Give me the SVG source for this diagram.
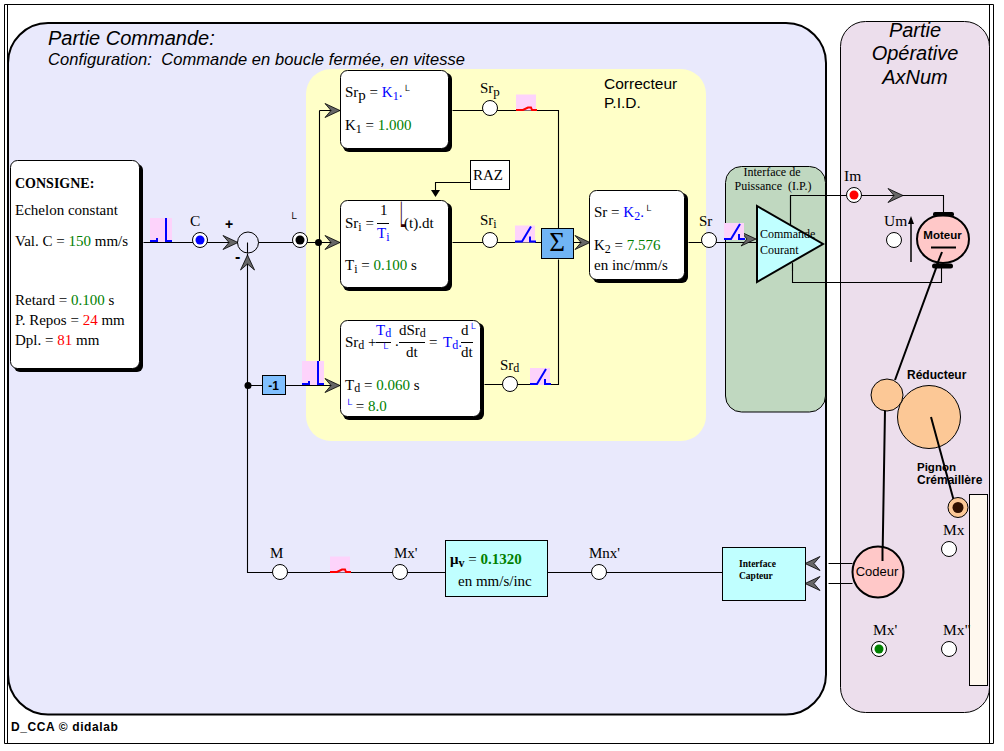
<svg xmlns="http://www.w3.org/2000/svg" xmlns:xlink="http://www.w3.org/1999/xlink" width="1004" height="751" viewBox="0 0 1004 751">
<style>
text{font-family:"Liberation Serif","Times New Roman",serif;font-size:15px;fill:#000}
.s{font-family:"Liberation Sans",Arial,sans-serif}
.i{font-family:"Liberation Sans",Arial,sans-serif;font-style:italic}
.b{font-weight:bold}
.lb{font-size:15.5px}
.g{fill:#008000}.r{fill:#f00}.u{fill:#00f}
.w{fill:none;stroke:#000;stroke-width:1.1}
.bar{stroke:#000;stroke-width:1}
.box{fill:#fff;stroke:#000;stroke-width:1}
.sh{fill:#000}
.nd{fill:#fff;stroke:#000;stroke-width:1}
.pk{fill:#fdd3fb}
.sb{fill:none;stroke:#00f;stroke-width:2}
.sr{fill:none;stroke:#f00;stroke-width:2}
.ch{fill:#666;stroke:#000;stroke-width:.8}
</style>
<defs>
<path id="chev" class="ch" d="M0,0L-15,-7L-9,0L-15,7Z"/>
<g id="stepS"><rect class="pk" width="22" height="24"/><path class="sb" d="M0,23H7V20M16,0V23H22"/></g>
<g id="rampS"><rect class="pk" width="20" height="17"/><path class="sb" d="M0,16H7L16,1M15,11V16H21"/></g>
<g id="lowS"><rect class="pk" width="20" height="16"/><path class="sr" d="M0,15.500H7L12,13H15L16,15.500H21"/></g>
</defs>
<rect x="0" y="0" width="1004" height="751" fill="#fff"/>
<path d="M4.500,4.500H993.500V743.500H4.500Z" fill="none" stroke="#000"/>
<path d="M7.500,4.500V743.500M989.500,4.500V743.500" fill="none" stroke="#000"/>
<g id="panel-commande">
<rect x="8" y="23" width="818" height="691.500" rx="40" fill="#e9e9fc" stroke="#000" stroke-width="2"/>
<rect x="306" y="69" width="400" height="372" rx="25" fill="#ffffc8"/>
<text class="i" x="48" y="45" style="font-size:20px">Partie Commande:</text>
<text class="i" x="48" y="65" style="font-size:16.500px" xml:space="preserve" textLength="417">Configuration:  Commande en boucle fermée, en vitesse</text>
<text class="s" x="604" y="89" style="font-size:15.500px">Correcteur</text>
<text class="s" x="604" y="108" style="font-size:15.500px">P.I.D.</text>
</g>
<g id="panel-operative">
<rect x="840.500" y="21.500" width="149" height="691" rx="25" fill="#ecdeec" stroke="#000"/>
<text class="i" x="915" y="37" text-anchor="middle" style="font-size:20px">Partie</text>
<text class="i" x="915" y="60" text-anchor="middle" style="font-size:20px">Opérative</text>
<text class="i" x="915" y="84" text-anchor="middle" style="font-size:20px">AxNum</text>
</g>
<g id="interface-puissance">
<rect x="725.500" y="166.500" width="100" height="245.500" rx="16" fill="#c0d8c0" stroke="#000"/>
<text x="772" y="176" text-anchor="middle" style="font-size:12px">Interface de</text>
<text x="773" y="190" text-anchor="middle" style="font-size:12px" xml:space="preserve" textLength="77">Puissance  (I.P.)</text>
</g>
<g id="connectors">
<g transform="translate(.5,.5)">
<path class="w" d="M143,242H237M258,242H340M319,110V361M319,110H340M247,253V572H722M247,385H262M285,385H340"/>
<path class="w" d="M452,110H558V228M452,242H541M558,259V384H484M573,242H590M688,242H756M470,182H435V192"/>
<path class="w" d="M790,250V195H943V212M792,263V282H941V267"/>
<path class="w" d="M828,563H852M828,583H852"/>
</g>
<path d="M942,252L895,380M885,410L882.500,560" fill="none" stroke="#000" stroke-width="2"/>
<use xlink:href="#chev" href="#chev" transform="translate(238,242.500)"/>
<use xlink:href="#chev" href="#chev" transform="translate(247.500,255) rotate(-90)"/>
<use xlink:href="#chev" href="#chev" transform="translate(340,110.500)"/>
<use xlink:href="#chev" href="#chev" transform="translate(340,242.500)"/>
<use xlink:href="#chev" href="#chev" transform="translate(340,385.500)"/>
<use xlink:href="#chev" href="#chev" transform="translate(590,242.500)"/>
<use xlink:href="#chev" href="#chev" transform="translate(756,239)"/>
<use xlink:href="#chev" href="#chev" transform="translate(903,195.500)"/>
<use xlink:href="#chev" href="#chev" transform="translate(805,563.500) rotate(180)"/>
<use xlink:href="#chev" href="#chev" transform="translate(805,583.500) rotate(180)"/>
<path d="M435.500,197L431,190H440Z" fill="#000"/>
<path d="M911,262V220" fill="none" stroke="#000" stroke-width="1.500"/>
<path d="M911,216L908,224H914Z" fill="#000"/>
<circle cx="318.500" cy="242.500" r="3.500" fill="#000"/>
<circle cx="248" cy="385.500" r="3.500" fill="#000"/>
</g>
<g id="signals">
<use xlink:href="#stepS" href="#stepS" x="150" y="218"/>
<use xlink:href="#stepS" href="#stepS" x="302" y="361"/>
<use xlink:href="#lowS" href="#lowS" x="516" y="94.500"/>
<use xlink:href="#rampS" href="#rampS" x="515" y="225.500"/>
<use xlink:href="#rampS" href="#rampS" x="530" y="368"/>
<use xlink:href="#rampS" href="#rampS" x="724" y="223"/>
<use xlink:href="#lowS" href="#lowS" x="330" y="556.500"/>
</g>
<g id="consigne">
<rect class="sh" x="14" y="164" width="129" height="208" rx="6"/>
<rect class="box" x="10.500" y="160.500" width="129" height="208" rx="7"/>
<text class="b" x="15" y="188" style="font-size:14px">CONSIGNE:</text>
<text x="15" y="215">Echelon constant</text>
<text x="15" y="246">Val. C = <tspan class="g">150</tspan> mm/s</text>
<text x="15" y="305">Retard = <tspan class="g">0.100</tspan> s</text>
<text x="15" y="325">P. Repos = <tspan class="r">24</tspan> mm</text>
<text x="15" y="345">Dpl. = <tspan class="r">81</tspan> mm</text>
</g>
<g id="node-c"><text x="190" y="226" class="lb">C</text><circle class="nd" cx="200" cy="240" r="7.500"/><circle cx="200" cy="240" r="4.500" fill="#00f"/></g>
<g id="sum"><circle cx="248" cy="242.500" r="10.500" fill="none" stroke="#000"/><path class="w" d="M247.500,242.500V253"/><text class="s b" x="225" y="229" style="font-size:14px">+</text><text class="s b" x="235" y="262" style="font-size:16px">-</text></g>
<g id="node-l"><text x="289" y="222" style="font-size:11px">└</text><circle class="nd" cx="300" cy="240" r="7.500"/><circle cx="300" cy="240" r="4.500" fill="#000"/></g>
<g id="gain"><rect x="262.500" y="375.500" width="23" height="19" fill="#80c0ff" stroke="#000"/><text class="s b" x="273.500" y="390" text-anchor="middle" style="font-size:12px">-1</text></g>
<g id="srp">
<rect class="sh" x="343" y="73" width="109" height="79" rx="6"/><rect class="box" x="340.500" y="70.500" width="108" height="78" rx="7"/>
<text x="345" y="97">Sr<tspan dy="3">p</tspan><tspan dy="-3"> = </tspan><tspan class="u">K<tspan dy="3" style="font-size:12px">1</tspan><tspan dy="-3">.</tspan></tspan><tspan dy="-3" style="font-size:10px">└</tspan></text>
<text x="345" y="130">K<tspan dy="3" style="font-size:12px">1</tspan><tspan dy="-3"> = </tspan><tspan class="g">1.000</tspan></text>
</g>
<g id="sri">
<rect class="sh" x="343" y="203" width="109" height="88" rx="6"/><rect class="box" x="340.500" y="200.500" width="108" height="87" rx="7"/>
<text x="345" y="228">Sr<tspan dy="3" style="font-size:12px">i</tspan><tspan dy="-3"> =</tspan></text>
<text x="380" y="215">1</text><path class="bar" d="M377,223.500H389"/>
<text class="u" x="377" y="238">T<tspan dy="3" style="font-size:12px">i</tspan></text>
<text transform="translate(397,238) scale(.3,1)" style="font-size:40px;fill:#300">└</text>
<text x="404" y="228">(t).dt</text>
<text x="345" y="270">T<tspan dy="3" style="font-size:12px">i</tspan><tspan dy="-3"> = </tspan><tspan class="g">0.100</tspan> s</text>
</g>
<g id="raz"><rect x="470.500" y="160.500" width="39" height="29" fill="#fff" stroke="#000"/><text x="473" y="180">RAZ</text></g>
<g id="srd">
<rect class="sh" x="343" y="323" width="141" height="97" rx="6"/><rect class="box" x="340.500" y="320.500" width="140" height="96" rx="7"/>
<text x="345" y="347">Sr<tspan dy="2" style="font-size:12px">d</tspan><tspan dy="-2"> +</tspan></text>
<text class="u" x="376" y="335">T<tspan dy="2" style="font-size:12px">d</tspan></text><path class="bar" d="M376,342.500H391"/><text class="u" x="381" y="352" style="font-size:10px">└</text>
<text x="395" y="346">.</text>
<text x="399" y="335">dSr<tspan dy="2" style="font-size:12px">d</tspan></text><path class="bar" d="M399,342.500H425"/><text x="406" y="357">dt</text>
<text x="429" y="347">=</text>
<text class="u" x="443" y="347">T<tspan dy="2" style="font-size:12px">d</tspan><tspan dy="-2">.</tspan></text>
<text x="461" y="335">d<tspan dy="-3" style="font-size:10px" class="u">└</tspan></text><path class="bar" d="M461,342.500H473"/><text x="461" y="357">dt</text>
<text x="345" y="390">T<tspan dy="2" style="font-size:12px">d</tspan><tspan dy="-2"> = </tspan><tspan class="g">0.060</tspan> s</text>
<text x="345" y="411"><tspan class="u" style="font-size:10px" dy="-3">└</tspan><tspan dy="3"> = </tspan><tspan class="g">8.0</tspan></text>
</g>
<g id="node-srp"><text x="480" y="93">Sr<tspan dy="3" style="font-size:13px">p</tspan></text><circle class="nd" cx="490" cy="108" r="7.500"/></g>
<g id="node-sri"><text x="480" y="225">Sr<tspan dy="3" style="font-size:12px">i</tspan></text><circle class="nd" cx="490" cy="240" r="7.500"/></g>
<g id="node-srd"><text x="500" y="370">Sr<tspan dy="2" style="font-size:12px">d</tspan></text><circle class="nd" cx="510" cy="384" r="7.500"/></g>
<g id="sigma"><rect x="541.500" y="228.500" width="32" height="30" fill="#70b4f4" stroke="#000"/><text x="557" y="251" text-anchor="middle" style="font-size:27px">Σ</text></g>
<g id="sr">
<rect class="sh" x="593" y="193" width="95" height="90" rx="6"/><rect class="box" x="589.500" y="190.500" width="95" height="89" rx="7"/>
<text x="594" y="217">Sr = <tspan class="u">K<tspan dy="3" style="font-size:12px">2</tspan><tspan dy="-3">.</tspan></tspan><tspan dy="-3" style="font-size:10px">└</tspan></text>
<text x="594" y="250">K<tspan dy="3" style="font-size:12px">2</tspan><tspan dy="-3"> = </tspan><tspan class="g">7.576</tspan></text>
<text x="594" y="270">en inc/mm/s</text>
</g>
<g id="node-sr"><text x="699" y="226">Sr</text><circle class="nd" cx="709" cy="240" r="7.500"/></g>
<g id="amplifier"><path d="M757,206V282L823,244Z" fill="#c0ffff" stroke="#000" stroke-width="2"/>
<path class="w" d="M790.500,196V224M792.500,263V271"/>
<text x="760" y="238" style="font-size:12px">Commande</text><text x="760" y="254" style="font-size:12px">Courant</text></g>
<g id="node-im"><text x="844" y="181" class="lb">Im</text><circle class="nd" cx="854" cy="195" r="7.500"/><circle cx="854" cy="195" r="4.500" fill="#f00"/></g>
<g id="node-um"><text x="884" y="226" class="lb">Um</text><circle class="nd" cx="894" cy="240" r="7.500"/></g>
<g id="moteur">
<ellipse cx="943" cy="239" rx="26" ry="24" fill="#ffc8c8" stroke="#000" stroke-width="2"/>
<rect x="933" y="212" width="21" height="4.500" rx="2" fill="#000"/><rect x="932" y="263.500" width="21" height="5" rx="2.500" fill="#000"/>
<text class="s b" x="942.500" y="239" text-anchor="middle" style="font-size:11.500px">Moteur</text>
<path d="M931,247.500H956" stroke="#000" stroke-width="2"/>
<path d="M942,252L936,267" stroke="#000" stroke-width="2"/>
</g>
<g id="reducteur">
<circle cx="929" cy="417" r="31.500" fill="#fcc896" stroke="#000"/>
<circle cx="887" cy="395" r="16" fill="#fcc896" stroke="#000"/>
<text class="s b" x="907" y="379" style="font-size:12px">Réducteur</text>
<path d="M931,417L955,505" fill="none" stroke="#000" stroke-width="2"/>
</g>
<g id="pignon">
<text class="s b" x="917" y="471" style="font-size:11.500px">Pignon</text>
<text class="s b" x="917" y="484" style="font-size:12px">Crémaillère</text>
<circle cx="958" cy="507.500" r="10" fill="#fcc896" stroke="#000"/><circle cx="958" cy="507.500" r="5.500" fill="#301000"/>
</g>
<g id="rack"><rect x="969.500" y="494.500" width="18" height="191" fill="#fff8ee" stroke="#000"/></g>
<g id="node-mx"><text x="943" y="535" class="lb">Mx</text><circle class="nd" cx="949" cy="549" r="7.500"/></g>
<g id="codeur"><circle cx="878" cy="572" r="25.500" fill="#ffc8c8" stroke="#000" stroke-width="2"/><text class="s" x="877" y="576" text-anchor="middle" style="font-size:13px">Codeur</text><path d="M882.500,546V561" stroke="#000" stroke-width="2"/></g>
<g id="interface-capteur"><rect x="722.500" y="547.500" width="83" height="53" fill="#c0ffff" stroke="#000"/><text class="b" x="739" y="567" style="font-size:9.500px">Interface</text><text class="b" x="739" y="579" style="font-size:9.500px">Capteur</text></g>
<g id="node-mx2"><text x="873" y="635" class="lb">Mx'</text><circle class="nd" cx="879" cy="649" r="7.500"/><circle cx="879" cy="649" r="4.500" fill="#008000"/></g>
<g id="node-mx3"><text x="943" y="635" class="lb">Mx"</text><circle class="nd" cx="949" cy="649" r="7.500"/></g>
<g id="node-m"><text x="270" y="558">M</text><circle class="nd" cx="280" cy="572" r="7.500"/></g>
<g id="node-mxp"><text x="394" y="558">Mx'</text><circle class="nd" cx="400" cy="572" r="7.500"/></g>
<g id="gain-mu"><rect x="445.500" y="540.500" width="102" height="56" fill="#c0ffff" stroke="#000"/>
<text x="450" y="564" class="b" style="font-size:15px">μ<tspan dy="3" style="font-size:12px">v</tspan><tspan dy="-3" style="font-weight:normal"> = </tspan><tspan class="g">0.1320</tspan></text>
<text x="458" y="586">en mm/s/inc</text></g>
<g id="node-mnx"><text x="589" y="558">Mnx'</text><circle class="nd" cx="599" cy="572" r="7.500"/></g>
<text class="s b" x="11" y="731" style="font-size:12px;letter-spacing:.6px">D_CCA © didalab</text>
</svg>
